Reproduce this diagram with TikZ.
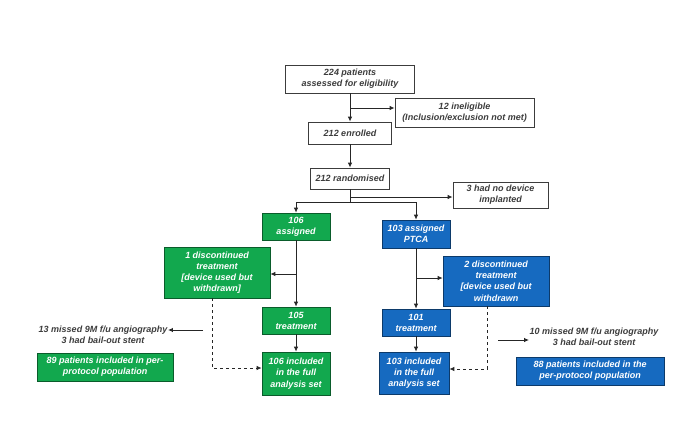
\documentclass[tikz,border=0pt]{standalone}
\usepackage{fontspec}
\setmainfont{Liberation Sans}
\usetikzlibrary{arrows.meta}
\definecolor{armgreen}{RGB}{18,168,78}
\definecolor{armblue}{RGB}{22,106,192}
\definecolor{boxgray}{RGB}{60,60,60}
\begin{document}
\begin{tikzpicture}[x=1pt,y=-1pt,
    font=\fontsize{9}{11.2}\selectfont\bfseries\itshape,
    every node/.style={align=center, inner sep=0.5pt},
    wbox/.style={draw=boxgray, fill=white, text=boxgray, line width=0.8pt},
    gbox/.style={draw=armgreen!55!black, fill=armgreen, text=white, line width=0.6pt},
    bbox/.style={draw=armblue!55!black, fill=armblue, text=white, line width=0.6pt},
    arr/.style={-{Latex[length=5pt,width=4.5pt]}, line width=0.9pt, draw=black!85},
    dasharr/.style={arr, dashed}]

                \useasboundingbox (0,0) rectangle (700,420);

                \node[wbox, minimum width=129, minimum height=28] (assess) at (350,79) {224 patients\\assessed for eligibility};
                \node[wbox, minimum width=139, minimum height=29] (inelig) at (464.5,112.5) {12 ineligible\\(Inclusion/exclusion not met)};
                \node[wbox, minimum width=83, minimum height=22] (enrol) at (350,133) {212 enrolled};
                \node[wbox, minimum width=79, minimum height=21] (random) at (350,178.5) {212 randomised};
                \node[wbox, minimum width=95, minimum height=26] (nodevice) at (500.5,195) {3 had no device\\implanted};

                \node[gbox, minimum width=68, minimum height=27] (assignG) at (296,226.5) {106\\assigned};
                \node[gbox, minimum width=106, minimum height=51] (discG) at (217,272.5) {1 discontinued\\treatment\\{[}device used but\\withdrawn{]}};
                \node[gbox, minimum width=68, minimum height=27] (treatG) at (296,320.5) {105\\treatment};
                \node[gbox, minimum width=68, minimum height=43] (fullG) at (296,373.5) {106 included\\in the full\\analysis set};
                \node[text=boxgray] (missG) at (103,335) {13 missed 9M f/u angiography\\3 had bail-out stent};
                \node[gbox, minimum width=136, minimum height=28] (ppG) at (105,367) {89 patients included in per-\\protocol population};

                \node[bbox, minimum width=68, minimum height=28] (assignB) at (416,234) {103 assigned\\PTCA};
                \node[bbox, minimum width=106, minimum height=50] (discB) at (496,281) {2 discontinued\\treatment\\{[}device used but\\withdrawn};
                \node[bbox, minimum width=68, minimum height=27] (treatB) at (416,322.5) {101\\treatment};
                \node[bbox, minimum width=70, minimum height=42] (fullB) at (414,373) {103 included\\in the full\\analysis set};
                \node[text=boxgray] (missB) at (594,337) {10 missed 9M f/u angiography\\3 had bail-out stent};
                \node[bbox, minimum width=148, minimum height=28] (ppB) at (590,371) {88 patients included in the\\per-protocol population};

                \coordinate (splitA) at (350,108);
                \coordinate (splitB) at (350,197);
                \coordinate (splitC) at (350,202);
                \coordinate (splitG) at (296,274);
                \coordinate (splitH) at (416,278);
                \coordinate (dashG) at (212,368);
                \coordinate (dashB) at (487,369);
                \coordinate (fromG) at (203,330);
                \coordinate (fromB) at (498,340);

                \draw[arr] (assess) -- (enrol);
                \draw[arr] (splitA) -- (inelig.west |- splitA);
                \draw[arr] (enrol) -- (random);
                \draw[line width=0.9pt, black!85] (random) -- (splitC);
                \draw[arr] (splitB) -- (nodevice.west |- splitB);
                \draw[arr] (splitC) -| (assignG);
                \draw[arr] (splitC) -| (assignB);

                \draw[arr] (assignG) -- (treatG);
                \draw[arr] (splitG) -- (discG.east |- splitG);
                \draw[arr] (treatG) -- (fullG);
                \draw[dasharr] (discG.south -| dashG) -- (dashG) -- (fullG.west |- dashG);
                \draw[arr] (fromG) -- (missG.east |- fromG);

                \draw[arr] (assignB) -- (treatB);
                \draw[arr] (splitH) -- (discB.west |- splitH);
                \draw[arr] (treatB) -- (treatB |- fullB.north);
                \draw[dasharr] (discB.south -| dashB) -- (dashB) -- (fullB.east |- dashB);
                \draw[arr] (fromB) -- (missB.west |- fromB);

            \end{tikzpicture}
\end{document}
